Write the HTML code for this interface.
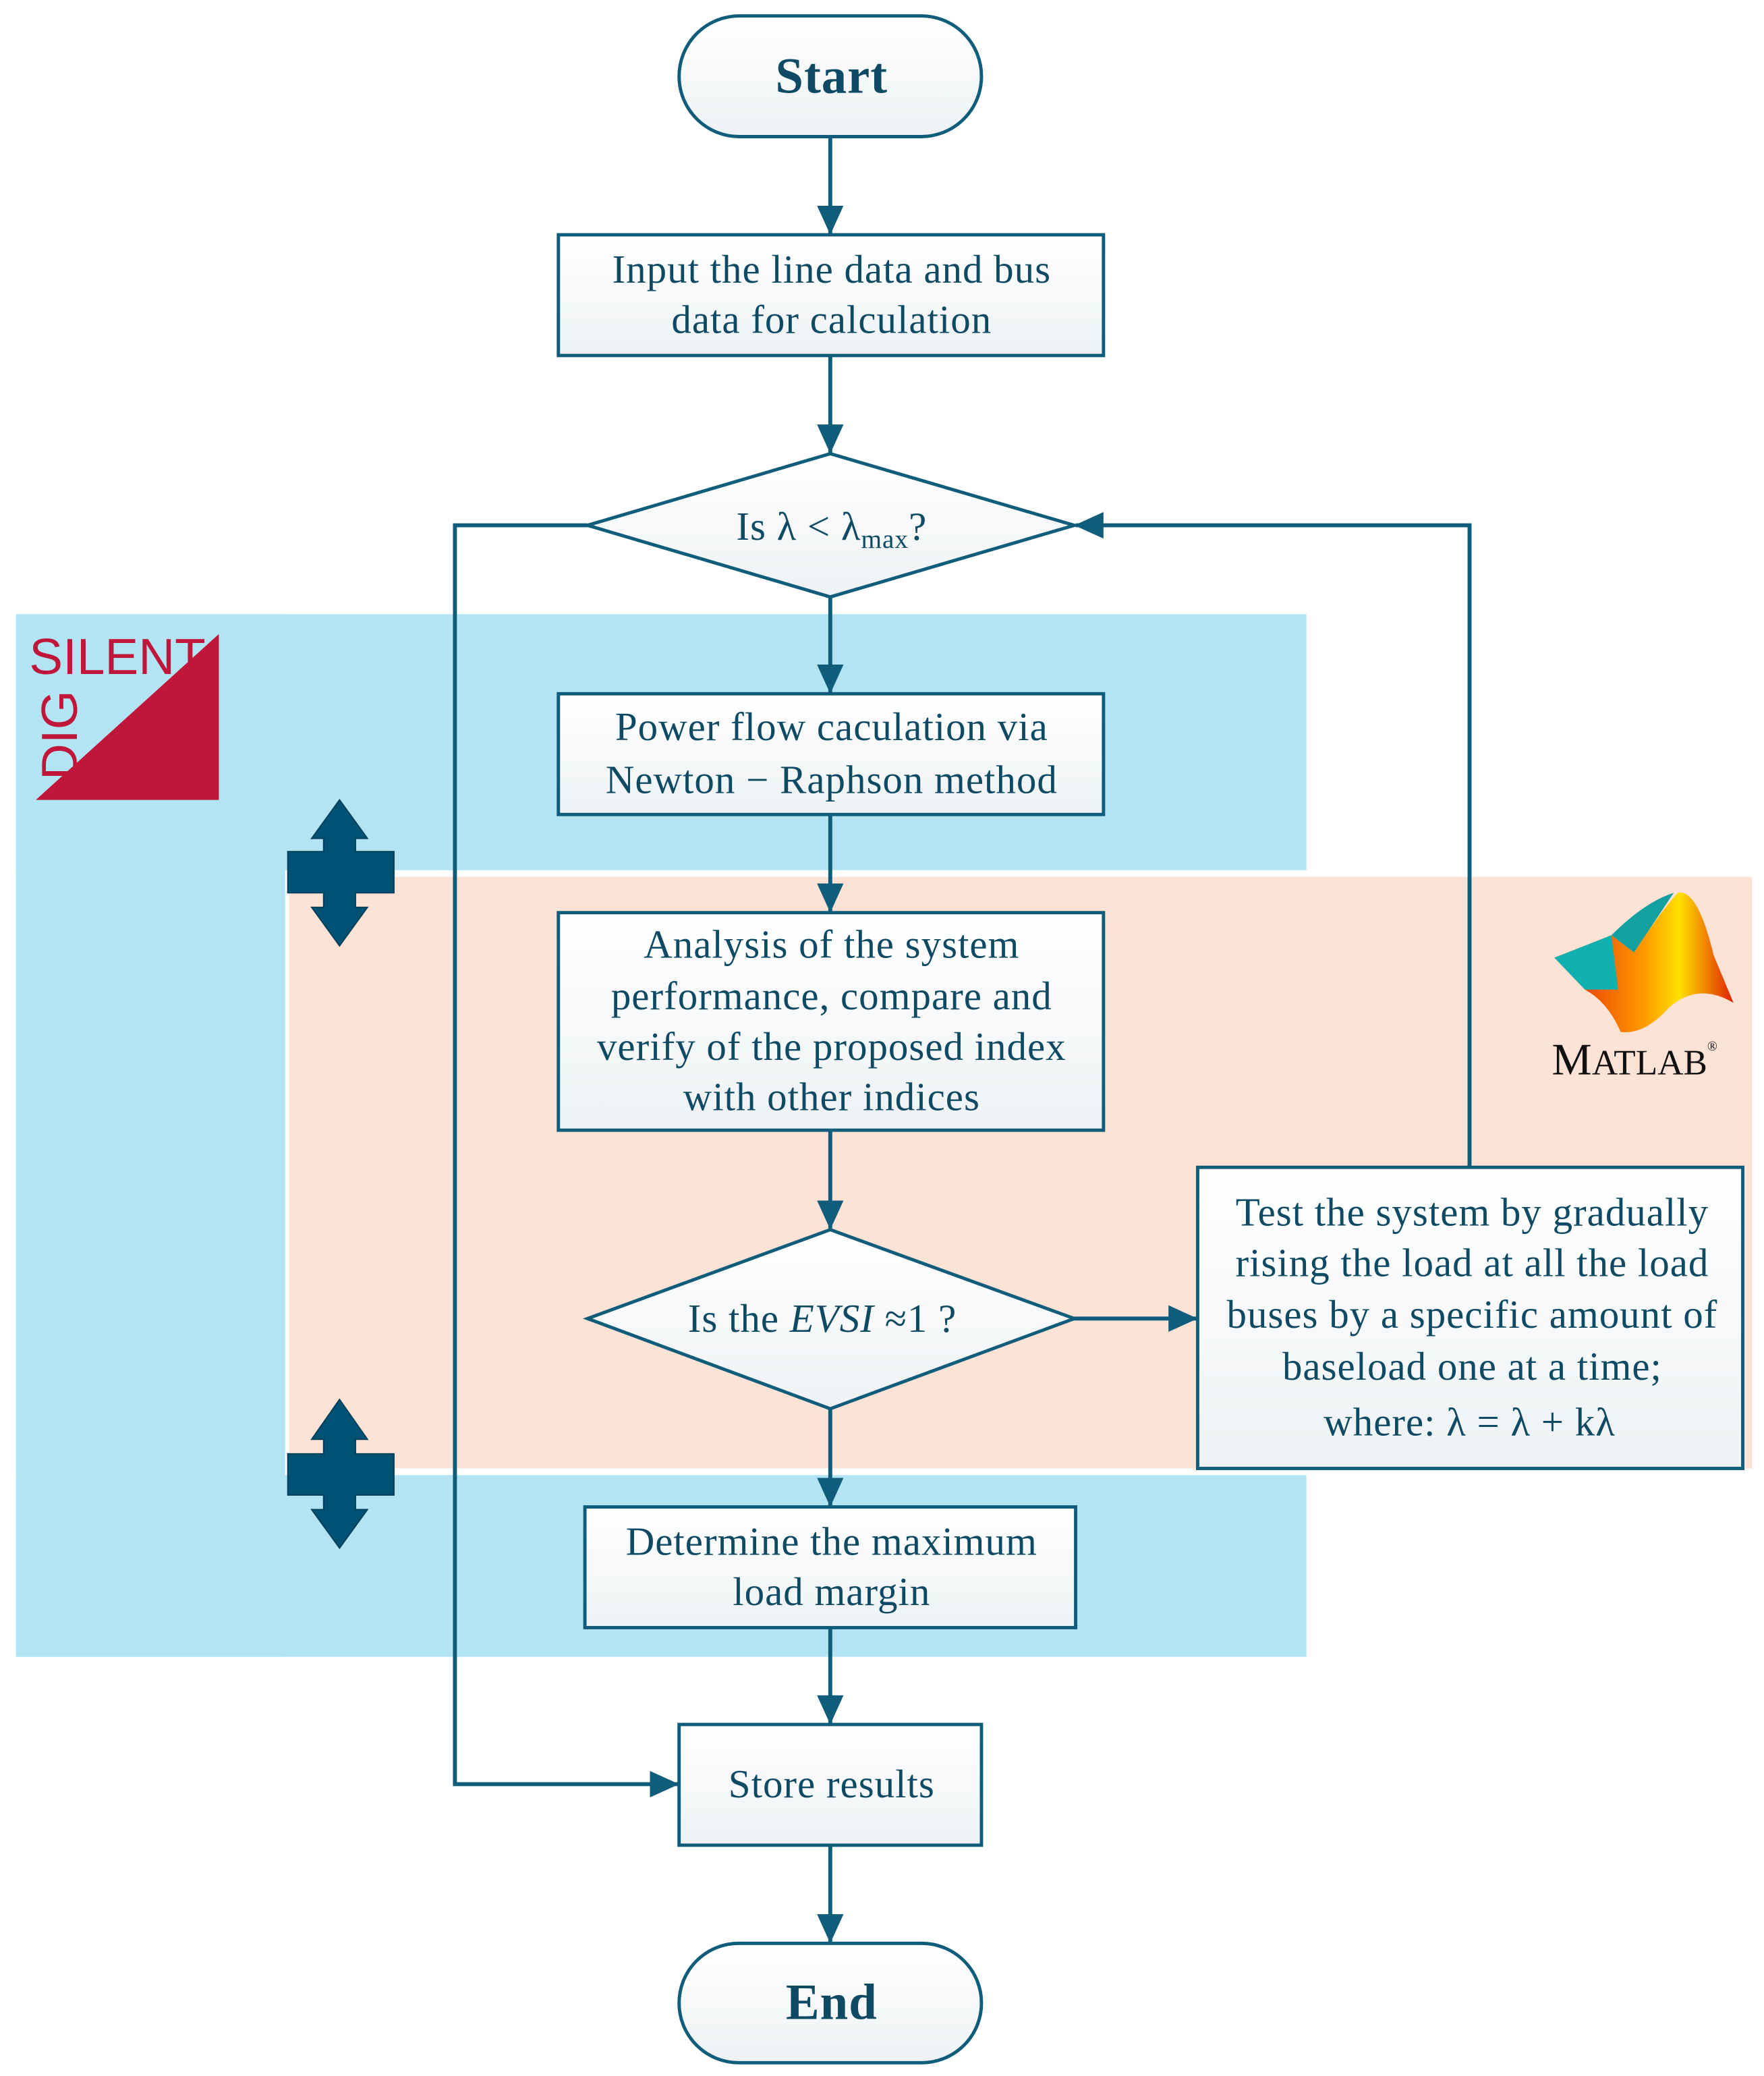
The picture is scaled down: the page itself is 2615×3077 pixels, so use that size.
<!DOCTYPE html>
<html><head><meta charset="utf-8"><style>
html,body{margin:0;padding:0;background:#fff;}
svg{display:block;}
text{font-family:"Liberation Serif",serif;fill:#0e4a63;}
</style></head><body>
<svg width="2615" height="3077" viewBox="0 0 1330 1565" xmlns="http://www.w3.org/2000/svg">
<defs>
<linearGradient id="g" x1="0" y1="0" x2="0" y2="1"><stop offset="0" stop-color="#ffffff"/><stop offset="1" stop-color="#eef2f4"/></linearGradient>
<marker id="b" markerWidth="22" markerHeight="20" refX="21" refY="10" orient="auto" markerUnits="userSpaceOnUse"><path d="M0,0 L22,10 L0,20 z" fill="#0f5c7b"/></marker>
<linearGradient id="m1" x1="0" y1="0" x2="1" y2="0"><stop offset="0" stop-color="#e02000"/><stop offset=".5" stop-color="#ff9a00"/><stop offset=".7" stop-color="#ffe000"/><stop offset="1" stop-color="#e02000"/></linearGradient>
</defs>
<rect x="12" y="463" width="973" height="193" fill="#b2e4f4"/>
<rect x="12" y="463" width="203" height="786" fill="#b2e4f4"/>
<rect x="12" y="1112" width="973" height="137" fill="#b2e4f4"/>
<rect x="218" y="661" width="1103" height="446" fill="#fde2d6"/>

<path d="M27,603 L165,478 L165,603 Z" fill="#c0163a"/>
<text x="22" y="508" font-size="38" style="fill:#c0163a;font-family:'Liberation Sans',sans-serif">SILENT</text>
<text transform="translate(58,588) rotate(-90)" font-size="38" style="fill:#c0163a;font-family:'Liberation Sans',sans-serif">DIG</text>

<g fill="#005274" stroke="#003f5a" stroke-width="1">
<path d="M256,603 L277,632 L268,632 L268,642 L297,642 L297,673 L268,673 L268,684 L277,684 L256,713 L235,684 L244,684 L244,673 L217,673 L217,642 L244,642 L244,632 L235,632 Z"/>
<path d="M256,1055 L277,1085 L268,1085 L268,1096 L297,1096 L297,1127 L268,1127 L268,1138 L277,1138 L256,1167 L235,1138 L244,1138 L244,1127 L217,1127 L217,1096 L244,1096 L244,1085 L235,1085 Z"/>
</g>

<path d="M1172,722 L1215,705 L1232,718 Q1250,690 1265,673 Q1280,670 1292,720 L1307,756 Q1280,740 1258,760 Q1240,780 1222,778 Q1212,755 1195,746 Z" fill="url(#m1)"/>
<path d="M1172,722 L1215,705 L1220,746 L1195,746 Z" fill="#10b0b0"/>
<path d="M1215,705 Q1240,680 1262,673 L1232,718 Z" fill="#14a0a0"/>
<text x="1170" y="810" font-size="34" style="fill:#111">M<tspan font-size="27">ATLAB</tspan><tspan font-size="10" dy="-18">®</tspan></text>

<g stroke="#0f5c7b" stroke-width="3" fill="none">
<line x1="626" y1="103" x2="626" y2="176" marker-end="url(#b)"/>
<line x1="626" y1="268" x2="626" y2="341" marker-end="url(#b)"/>
<line x1="626" y1="450" x2="626" y2="522" marker-end="url(#b)"/>
<line x1="626" y1="614" x2="626" y2="687" marker-end="url(#b)"/>
<line x1="626" y1="852" x2="626" y2="926" marker-end="url(#b)"/>
<line x1="626" y1="1062" x2="626" y2="1135" marker-end="url(#b)"/>
<line x1="626" y1="1227" x2="626" y2="1299" marker-end="url(#b)"/>
<line x1="626" y1="1391" x2="626" y2="1464" marker-end="url(#b)"/>
<line x1="810" y1="994" x2="902" y2="994" marker-end="url(#b)"/>
<polyline points="443,396 343,396 343,1345 511,1345" marker-end="url(#b)"/>
<polyline points="1108,880 1108,396 811,396" marker-end="url(#b)"/>
</g>

<g stroke="#0f5c7b" stroke-width="2.5" fill="url(#g)">
<rect x="512" y="12" width="228" height="91" rx="45.5"/>
<rect x="421" y="177" width="411" height="91"/>
<path d="M626,342 L810,396 L626,450 L443,396 Z"/>
<rect x="421" y="523" width="411" height="91"/>
<rect x="421" y="688" width="411" height="164"/>
<path d="M626,927 L810,994 L626,1062 L443,994 Z"/>
<rect x="903" y="880" width="411" height="227"/>
<rect x="441" y="1136" width="370" height="91"/>
<rect x="512" y="1300" width="228" height="91"/>
<rect x="512" y="1465" width="228" height="90" rx="45"/>
</g>

<g font-size="30" text-anchor="middle" letter-spacing="0.5">
<text x="627" y="70" font-weight="bold" font-size="38">Start</text>
<text x="627" y="213">Input the line data and bus</text>
<text x="627" y="251">data for calculation</text>
<text x="627" y="407">Is λ &lt; λ<tspan font-size="20" dy="6">max</tspan><tspan dy="-6">?</tspan></text>
<text x="627" y="558">Power flow caculation via</text>
<text x="627" y="598">Newton − Raphson method</text>
<text x="627" y="722">Analysis of the system</text>
<text x="627" y="761">performance, compare and</text>
<text x="627" y="799">verify of the proposed index</text>
<text x="627" y="837">with other indices</text>
<text x="620" y="1004">Is the <tspan font-style="italic">EVSI</tspan> ≈1 ?</text>
<text x="1110" y="924">Test the system by gradually</text>
<text x="1110" y="962">rising the load at all the load</text>
<text x="1110" y="1001">buses by a specific amount of</text>
<text x="1110" y="1040">baseload one at a time;</text>
<text x="1108" y="1082">where:  λ =   λ + kλ</text>
<text x="627" y="1172">Determine the maximum</text>
<text x="627" y="1210">load margin</text>
<text x="627" y="1355">Store results</text>
<text x="627" y="1522" font-weight="bold" font-size="38">End</text>
</g>
</svg>
</body></html>
